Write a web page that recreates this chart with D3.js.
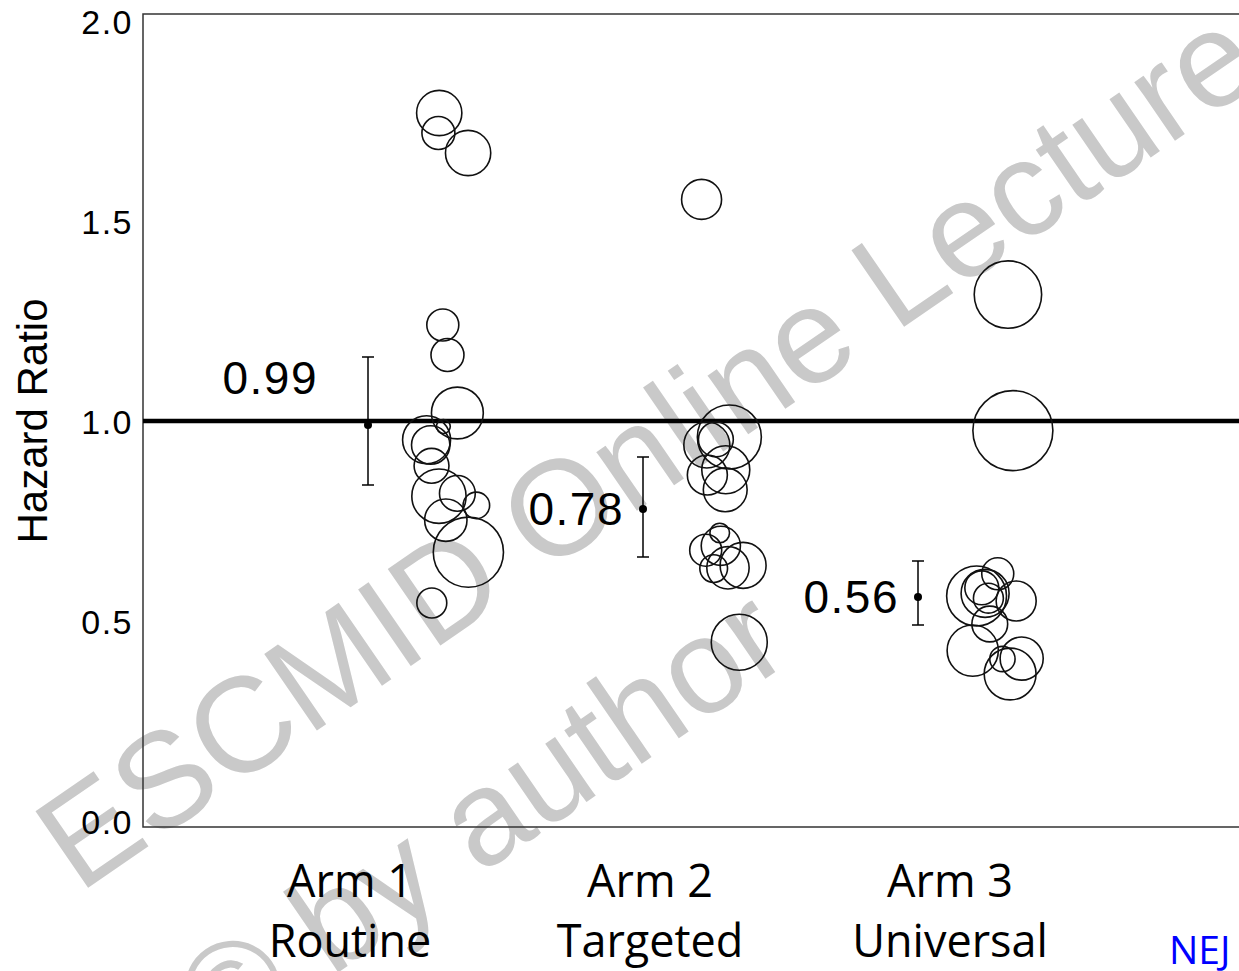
<!DOCTYPE html>
<html>
<head>
<meta charset="utf-8">
<script src="https://cdn.jsdelivr.net/npm/d3@7"></script>
<style>
  body { margin: 0; background: #fff; overflow: hidden; }
  svg { display: block; }
</style>
</head>
<body>
<script>
// chart values
var armTitles = ["Arm 1", "Arm 2", "Arm 3"];
var armNames = ["Routine", "Targeted", "Universal"];
var pooledHR = [0.99, 0.78, 0.56];
var ciLow = [0.84, 0.66, 0.49];
var ciHigh = [1.16, 0.91, 0.65];
var yTicks = [0.0, 0.5, 1.0, 1.5, 2.0];

// one circle per hospital: arm number + jittered position, hazard ratio, weight
var siteArm = [1,1,1,1,1,1,1,1,1,1,1,1,1,1,1,1,
               2,2,2,2,2,2,2,2,2,2,2,2,2,2,
               3,3,3,3,3,3,3,3,3,3,3,3,3];
var sitePos = [1.259,1.256,1.364,1.272,1.289,1.325,1.213,1.228,1.231,1.258,1.325,1.394,1.283,1.365,1.232,1.274,
               2.213,2.314,2.232,2.265,2.234,2.301,2.299,2.279,2.228,2.283,2.364,2.257,2.309,2.350,
               3.327,3.345,3.213,3.244,3.232,3.290,3.256,3.357,3.261,3.199,3.307,3.377,3.335];
var siteHR = [1.77,1.72,1.67,1.24,1.165,1.02,0.953,0.94,0.888,0.812,0.819,0.789,0.752,0.672,0.545,0.986,
              1.554,0.96,0.94,0.954,0.865,0.878,0.828,0.72,0.677,0.688,0.639,0.631,0.633,0.447,
              1.316,0.976,0.5625,0.569,0.583,0.618,0.557,0.55,0.4925,0.426,0.405,0.406,0.3675];
var siteWeight = [32,17,32,16,17,42,36,23,19,46,20,11,28,77,14,3,
                  25,64,33,19,25,36,30,6,16,24,33,12,28,49,
                  71,100,56,36,18,16,14,25,20,41,10,29,42];

var w = 1239, h = 971;
var plotLeft = 143, plotTop = 14, plotBottom = 827;

var svg = d3.select("body")
    .append("svg")
    .attr("width", w)
    .attr("height", h);

// watermark (sits under the chart)
var wm = svg.append("g")
    .attr("fill", "#c9c9c9")
    .style("font-family", "'Liberation Sans', Arial, sans-serif")
    .style("font-size", "135px");
wm.append("text")
    .attr("transform", "translate(79,894) rotate(-34.5)")
    .text("ESCMID Online Lecture");
wm.append("text")
    .attr("transform", "translate(218,1055) rotate(-34.5)")
    .text("\u00a9 by author");

// scales
var yScale = d3.scaleLinear()
    .domain([0, 2])
    .range([821, 21]);
var xScale = d3.scaleLinear()
    .domain([1, 3])
    .range([368, 918]);
var rScale = d3.scaleSqrt()
    .domain([0, 100])
    .range([0, 40]);
var labelScale = d3.scaleBand()
    .domain(armTitles)
    .range([200, 1100]);

// plot frame (right side runs off the slide)
svg.append("path")
    .attr("d", "M" + (w + 20) + "," + plotTop + "H" + plotLeft + "V" + plotBottom + "H" + (w + 20))
    .attr("fill", "none")
    .attr("stroke", "#333")
    .attr("stroke-width", 1.5);

// y axis labels only, no tick marks
var yAxis = d3.axisLeft(yScale)
    .tickValues(yTicks)
    .tickFormat(d3.format(".1f"))
    .tickSize(0)
    .tickPadding(10);
var yg = svg.append("g")
    .attr("transform", "translate(" + plotLeft + ",0)")
    .call(yAxis);
yg.select(".domain").remove();
yg.selectAll("text")
    .attr("fill", "#000")
    .attr("dy", "0.36em")
    .style("font-family", "'Liberation Sans', Arial, sans-serif")
    .style("font-size", "34px")
    .style("letter-spacing", "1.5px");

svg.append("text")
    .attr("transform", "translate(47," + yScale(1.0) + ") rotate(-90)")
    .attr("text-anchor", "middle")
    .style("font-family", "'Liberation Sans', Arial, sans-serif")
    .style("font-size", "42px")
    .text("Hazard Ratio");

// reference line at HR = 1
svg.append("line")
    .attr("x1", plotLeft)
    .attr("x2", w + 20)
    .attr("y1", yScale(1))
    .attr("y2", yScale(1))
    .attr("stroke", "#000")
    .attr("stroke-width", 4.5);

// hospital circles
var sites = siteHR.map(function(v, i) {
    return { arm: siteArm[i], pos: sitePos[i], hr: v, weight: siteWeight[i] };
});
svg.append("g")
    .selectAll("circle")
    .data(sites)
    .enter()
    .append("circle")
    .attr("cx", function(d) { return xScale(d.pos); })
    .attr("cy", function(d) { return yScale(d.hr); })
    .attr("r", function(d) { return rScale(d.weight); })
    .attr("fill", "none")
    .attr("stroke", "#111")
    .attr("stroke-width", 1.6);

// pooled estimates with 95% CI
var pooled = pooledHR.map(function(v, i) {
    return { arm: i + 1, hr: v, lo: ciLow[i], hi: ciHigh[i] };
});
var pg = svg.append("g")
    .selectAll("g")
    .data(pooled)
    .enter()
    .append("g")
    .attr("stroke", "#000")
    .attr("stroke-width", 1.5);
pg.append("line")
    .attr("x1", function(d) { return xScale(d.arm); })
    .attr("x2", function(d) { return xScale(d.arm); })
    .attr("y1", function(d) { return yScale(d.lo); })
    .attr("y2", function(d) { return yScale(d.hi); });
pg.append("line")
    .attr("x1", function(d) { return xScale(d.arm) - 6; })
    .attr("x2", function(d) { return xScale(d.arm) + 6; })
    .attr("y1", function(d) { return yScale(d.hi); })
    .attr("y2", function(d) { return yScale(d.hi); });
pg.append("line")
    .attr("x1", function(d) { return xScale(d.arm) - 6; })
    .attr("x2", function(d) { return xScale(d.arm) + 6; })
    .attr("y1", function(d) { return yScale(d.lo); })
    .attr("y2", function(d) { return yScale(d.lo); });
pg.append("circle")
    .attr("cx", function(d) { return xScale(d.arm); })
    .attr("cy", function(d) { return yScale(d.hr); })
    .attr("r", 4)
    .attr("fill", "#000")
    .attr("stroke", "none");
// arm 1 label sits up-left of its bar (clear of the reference line)
pg.append("text")
    .attr("x", function(d) { return d.arm === 1 ? xScale(d.arm) - 50 : xScale(d.arm) - 19; })
    .attr("y", function(d) { return d.arm === 1 ? yScale(d.hr) - 31 : yScale(d.hr) + 16; })
    .attr("text-anchor", "end")
    .attr("stroke", "none")
    .attr("fill", "#000")
    .style("font-family", "'Liberation Sans', Arial, sans-serif")
    .style("font-size", "46px")
    .style("letter-spacing", "1.5px")
    .text(function(d) { return d3.format(".2f")(d.hr); });

// arm labels under the plot
var lg = svg.append("g")
    .style("font-family", "'Open Sans', 'Noto Sans', sans-serif")
    .style("font-size", "45px")
    .attr("text-anchor", "middle")
    .attr("fill", "#000");
lg.selectAll("text.title")
    .data(armTitles)
    .enter()
    .append("text")
    .attr("class", "title")
    .attr("x", function(d) { return labelScale(d) + labelScale.bandwidth() / 2; })
    .attr("y", 897)
    .text(function(d) { return d; });
lg.selectAll("text.name")
    .data(armNames)
    .enter()
    .append("text")
    .attr("class", "name")
    .attr("x", function(d, i) { return labelScale(armTitles[i]) + labelScale.bandwidth() / 2; })
    .attr("y", 957)
    .text(function(d) { return d; });

svg.append("text")
    .attr("x", 1169)
    .attr("y", 964)
    .attr("fill", "#0000ff")
    .style("font-family", "'Open Sans', 'Noto Sans', sans-serif")
    .style("font-size", "39px")
    .text("NEJ");
</script>
</body>
</html>
